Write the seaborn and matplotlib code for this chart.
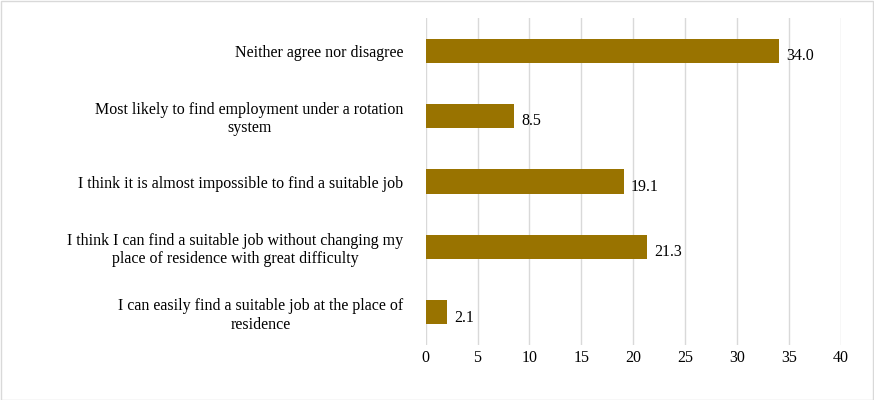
import matplotlib
matplotlib.use("Agg")
import matplotlib.pyplot as plt
import seaborn as sns
import pandas as pd

categories = [
    "Neither agree nor disagree",
    "Most likely to find employment under a rotation\nsystem",
    "I think it is almost impossible to find a suitable job",
    "I think I can find a suitable job without changing my\nplace of residence with great difficulty",
    "I can easily find a suitable job at the place of\nresidence",
]
values = [34.0, 8.5, 19.1, 21.3, 2.1]
ticks = [0, 5, 10, 15, 20, 25, 30, 35, 40]

plt.rcParams["font.family"] = "Liberation Serif"
df = pd.DataFrame({"cat": categories, "val": values})

fig = plt.figure(figsize=(8.74, 4.0), dpi=100)
ax = fig.add_axes([0.487, 0.1375, 0.475, 0.8175])
sns.barplot(data=df, x="val", y="cat", color="#997300", width=0.37,
            saturation=1, ax=ax, zorder=3)
for i, v in enumerate(values):
    ax.text(v + 0.7, i + 0.08, f"{v:.1f}", va="center", ha="left", fontsize=11.5)

ax.set_xlim(0, 40)
ax.set_xticks(ticks)
ax.grid(axis="x", color="#d9d9d9", linewidth=1, zorder=0)
ax.set_xlabel("")
ax.set_ylabel("")
for s in ax.spines.values():
    s.set_visible(False)
ax.tick_params(axis="both", length=0, labelsize=11.5)
ax.tick_params(axis="y", pad=16)
for lab in ax.get_yticklabels():
    lab.set_multialignment("center")

fig.patches.append(plt.Rectangle((0.001, 0.001), 0.998, 0.997, transform=fig.transFigure,
                                 fill=False, edgecolor="#d9d9d9", linewidth=1))
fig.savefig("out.png", dpi=100)
